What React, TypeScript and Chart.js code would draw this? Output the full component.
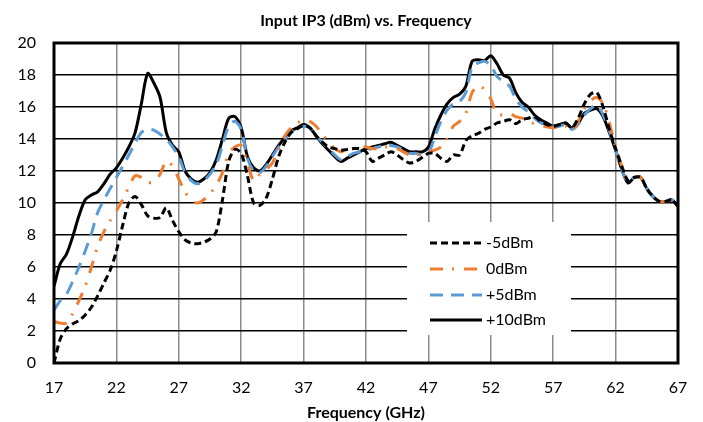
import { useEffect, useRef } from "react";
import { Chart, registerables } from "chart.js";

Chart.register(...registerables);

const FREQ = [
  17, 17.5, 18, 18.5, 19, 19.5, 20, 20.5, 21, 21.5, 22, 22.5, 23, 23.5, 24, 24.5, 25, 25.5, 26, 26.5,
  27, 27.5, 28, 28.5, 29, 29.5, 30, 30.5, 31, 31.5, 32, 32.5, 33, 33.5, 34, 34.5, 35, 35.5, 36, 36.5,
  37, 37.5, 38, 38.5, 39, 39.5, 40, 40.5, 41, 41.5, 42, 42.5, 43, 43.5, 44, 44.5, 45, 45.5, 46, 46.5,
  47, 47.5, 48, 48.5, 49, 49.5, 50, 50.5, 51, 51.5, 52, 52.5, 53, 53.5, 54, 54.5, 55, 55.5, 56, 56.5,
  57, 57.5, 58, 58.5, 59, 59.5, 60, 60.5, 61, 61.5, 62, 62.5, 63, 63.5, 64, 64.5, 65, 65.5, 66, 66.5, 67,
];

const M5 = [
  0.0, 1.5, 2.15, 2.45, 2.65, 3.0, 3.5, 4.2, 5.0, 5.8, 7.0, 8.6, 10.0, 10.4, 9.9, 9.2, 9.05, 9.1, 9.7, 8.9,
  8.2, 7.7, 7.5, 7.45, 7.55, 7.75, 8.2, 10.2, 12.6, 13.35, 13.1, 11.7, 10.0, 9.85, 10.3, 11.5, 12.9, 13.8, 14.4, 14.65,
  14.85, 14.7, 14.2, 13.8, 13.5, 13.4, 13.3, 13.35, 13.4, 13.4, 13.2, 12.6, 12.8, 13.0, 13.2, 13.0, 12.7, 12.5, 12.6, 12.85,
  13.1, 13.1, 12.8, 12.6, 13.0, 13.0, 13.9, 14.2, 14.35, 14.6, 14.75, 15.0, 15.1, 15.2, 14.96, 15.2, 15.3, 15.4, 15.1, 14.9,
  14.8, 14.9, 15.0, 14.7, 15.3, 16.2, 16.8, 16.9, 16.0, 14.6, 13.4, 12.3, 11.4, 11.6, 11.6, 10.9, 10.4, 10.1, 10.1, 10.2, 9.8,
];

const P0 = [
  2.6, 2.5, 2.5, 3.1, 3.9, 4.8, 6.0, 7.3, 8.2, 8.9, 9.5, 10.2, 11.0, 11.7, 11.6, 11.3, 11.3, 11.8, 12.6, 12.3,
  11.5, 10.7, 10.2, 10.0, 10.2, 10.6, 11.1, 11.9, 13.1, 13.5, 13.6, 12.5, 11.4, 11.8, 12.1, 12.5, 13.4, 14.2, 14.7, 15.0,
  15.2, 15.1, 14.8, 14.3, 13.8, 13.4, 13.2, 13.3, 13.4, 13.5, 13.5, 13.4, 13.4, 13.5, 13.5, 13.4, 13.2, 13.0, 13.0, 13.1,
  13.2, 13.3, 13.5, 14.0, 14.8, 15.1, 15.6, 16.9, 17.3, 17.1, 16.5, 15.6, 15.5, 15.6, 15.4, 15.3, 15.1, 14.95, 14.85, 14.75,
  14.7, 14.8, 14.8, 14.5, 15.1, 15.9, 16.4, 16.6, 16.2, 15.0, 13.5, 12.3, 11.4, 11.6, 11.6, 10.9, 10.4, 10.1, 10.1, 10.2, 9.8,
];

const P5 = [
  3.3, 3.9, 4.3, 5.1, 6.0, 7.0, 8.1, 9.4, 10.2, 10.9, 11.6, 12.3, 13.0, 13.75, 14.4, 14.6, 14.55, 14.3, 14.0, 13.5,
  12.9, 11.9, 11.4, 11.2, 11.4, 11.8, 12.4, 13.6, 14.8, 15.1, 14.6, 12.8, 12.0, 11.9, 12.3, 12.9, 13.5, 14.0, 14.4, 14.7,
  14.8, 14.7, 14.2, 13.8, 13.4, 13.0, 12.7, 12.9, 13.1, 13.2, 13.3, 13.4, 13.5, 13.6, 13.6, 13.5, 13.3, 13.1, 13.1, 13.0,
  13.1, 14.1, 15.1, 15.8, 16.2, 16.35, 16.9, 18.5, 18.75, 18.85, 18.6, 17.9, 17.6, 17.3, 16.5, 16.0, 15.7, 15.3, 15.0, 14.9,
  14.75, 14.8, 14.9, 14.6, 14.9, 15.5, 15.9, 16.1, 15.5, 14.5, 13.3, 12.1, 11.3, 11.6, 11.6, 10.9, 10.4, 10.1, 10.1, 10.2, 9.8,
];

const P10 = [
  4.8, 6.2, 6.8, 7.9, 9.2, 10.2, 10.5, 10.7, 11.2, 11.8, 12.2, 12.8, 13.5, 14.4, 16.2, 18.1, 17.5, 16.6, 14.4, 13.6,
  13.2, 12.0, 11.5, 11.3, 11.5, 11.9, 12.7, 14.0, 15.3, 15.4, 14.7, 12.9, 12.2, 12.0, 12.4, 13.0, 13.6, 14.1, 14.5, 14.7,
  14.9, 14.7, 14.2, 13.7, 13.3, 12.9, 12.6, 12.8, 13.0, 13.2, 13.4, 13.5, 13.6, 13.7, 13.8, 13.6, 13.4, 13.2, 13.2, 13.2,
  13.5, 14.6, 15.5, 16.2, 16.6, 16.8, 17.3, 18.85, 18.95, 18.9, 19.2, 18.7, 18.0, 17.8, 16.9, 16.3, 16.0, 15.5, 15.2, 15.0,
  14.8, 14.9, 15.0, 14.7, 15.0, 15.6, 15.8, 15.9, 15.4, 14.4, 13.3, 12.1, 11.25, 11.6, 11.6, 10.9, 10.4, 10.1, 10.1, 10.2, 9.8,
];

const SERIES_NAMES = ["-5dBm", "0dBm", "+5dBm", "+10dBm"];
const TITLE = "Input IP3 (dBm) vs. Frequency";
const X_TITLE = "Frequency (GHz)";
const FONT = "Lato, 'Liberation Sans', sans-serif";

const toPoints = (ys: number[]) => FREQ.map((x, i) => ({ x, y: ys[i] }));

const overlayPlugin = {
  id: "overlay",
  afterDatasetsDraw(chart: any) {
    const { ctx, chartArea } = chart;
    const L = chartArea.left;
    const T = chartArea.top;
    ctx.save();
    // legend box
    ctx.fillStyle = "#ffffff";
    ctx.fillRect(L + 353, T + 179, 164, 113);
    const rows = [200, 226, 252, 277];
    chart.data.datasets.forEach((ds: any, i: number) => {
      const yy = T + rows[i];
      ctx.beginPath();
      ctx.strokeStyle = ds.borderColor;
      ctx.lineWidth = ds.borderWidth;
      ctx.setLineDash(ds.borderDash || []);
      ctx.moveTo(L + 376, yy);
      ctx.lineTo(L + 428, yy);
      ctx.stroke();
      ctx.setLineDash([]);
      ctx.fillStyle = "#000000";
      ctx.font = `16px ${FONT}`;
      ctx.textBaseline = "middle";
      ctx.textAlign = "left";
      ctx.fillText(ds.label, L + 432, yy);
    });
    // frame
    ctx.strokeStyle = "#000000";
    ctx.lineWidth = 3;
    ctx.strokeRect(chartArea.left, chartArea.top, chartArea.right - chartArea.left, chartArea.bottom - chartArea.top);
    ctx.restore();
  },
};

export default function App() {
  const ref = useRef<HTMLCanvasElement | null>(null);
  useEffect(() => {
    if (!ref.current) return;
    const chart = new Chart(ref.current, {
      type: "scatter",
      data: {
        datasets: [
          {
            label: SERIES_NAMES[0],
            data: toPoints(M5),
            borderColor: "#000000",
            borderWidth: 3,
            borderDash: [7, 4],
          },
          {
            label: SERIES_NAMES[1],
            data: toPoints(P0),
            borderColor: "#ED7D31",
            borderWidth: 3,
            borderDash: [13, 9, 2, 10],
          },
          {
            label: SERIES_NAMES[2],
            data: toPoints(P5),
            borderColor: "#5B9BD5",
            borderWidth: 3,
            borderDash: [13, 8],
          },
          {
            label: SERIES_NAMES[3],
            data: toPoints(P10),
            borderColor: "#000000",
            borderWidth: 3,
          },
        ].map((d) => ({ ...d, showLine: true, pointRadius: 0, tension: 0.3, fill: false })),
      },
      options: {
        animation: false,
        responsive: false,
        maintainAspectRatio: false,
        layout: { padding: { left: 0, right: 25, top: 0, bottom: 0 } },
        plugins: {
          legend: { display: false },
          tooltip: { enabled: false },
          title: {
            display: true,
            text: TITLE,
            color: "#000000",
            fullSize: false,
            font: { family: FONT, size: 16, weight: "bold" },
            padding: { top: 11, bottom: 12.8 },
          },
        },
        scales: {
          x: {
            type: "linear",
            min: 17,
            max: 67,
            afterFit: (s: any) => {
              s.height = 59;
            },
            ticks: {
              stepSize: 5,
              color: "#000000",
              font: { family: FONT, size: 16 },
              padding: 15,
              maxRotation: 0,
            },
            grid: { color: "#8c8c8c", lineWidth: 1.5, drawTicks: false },
            border: { display: false },
            title: {
              display: true,
              text: X_TITLE,
              color: "#000000",
              font: { family: FONT, size: 16, weight: "bold" },
              padding: { top: 0, bottom: 0 },
            },
          },
          y: {
            min: 0,
            max: 20,
            afterFit: (s: any) => {
              s.width = 54;
            },
            ticks: {
              stepSize: 2,
              color: "#000000",
              font: { family: FONT, size: 16 },
              padding: 18,
            },
            grid: { color: "#000000", lineWidth: 1.5, drawTicks: false },
            border: { display: false },
          },
        },
      },
      plugins: [overlayPlugin],
    });
    return () => chart.destroy();
  }, []);
  return (
    <div style={{ position: "fixed", left: 0, top: 0, width: 703, height: 422, background: "#ffffff" }}>
      <canvas ref={ref} width={703} height={422} style={{ width: 703, height: 422 }} />
    </div>
  );
}
